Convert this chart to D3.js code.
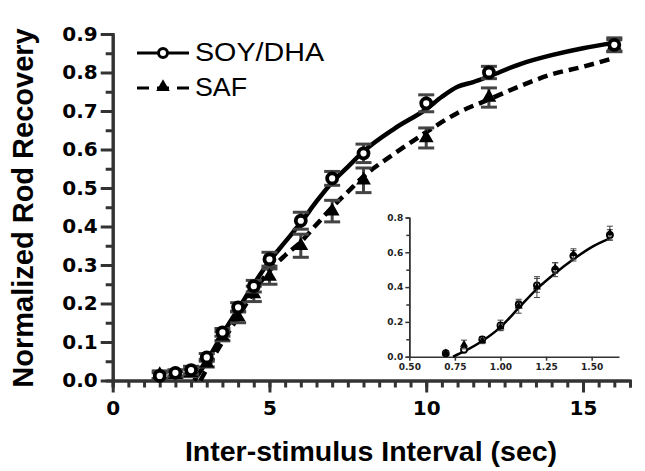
<!DOCTYPE html>
<html>
<head>
<meta charset="utf-8">
<script src="https://cdn.jsdelivr.net/npm/d3@7/dist/d3.min.js"></script>
<style>
    body { margin: 0; background: #fff; }
    #chart-area { width: 645px; height: 471px; }
    .tick text { font-family: "DejaVu Sans", sans-serif; font-weight: bold; fill: #000; }
</style>
</head>
<body>
<div id="chart-area"></div>
<script>

// main panel: inter-stimulus interval (sec)
var isi = [1.5, 2, 2.5, 3, 3.5, 4, 4.5, 5, 6, 7, 8, 10, 12, 16];
var soyMean = [0.012, 0.02, 0.027, 0.06, 0.125, 0.19, 0.245, 0.315, 0.415, 0.525, 0.59, 0.72, 0.80, 0.872];
var soyErr = [0.008, 0.008, 0.01, 0.01, 0.01, 0.012, 0.015, 0.018, 0.022, 0.018, 0.024, 0.022, 0.016, 0.018];
var safMean = [0.015, 0.015, 0.02, 0.045, 0.115, 0.165, 0.225, 0.27, 0.35, 0.44, 0.52, 0.63, 0.735, 0.87];
var safErr = [0.01, 0.008, 0.01, 0.01, 0.012, 0.015, 0.02, 0.02, 0.03, 0.028, 0.032, 0.026, 0.025, 0.015];

// fitted curves
var soyFitX = [2.6, 3, 3.5, 4, 4.5, 5, 5.5, 6, 6.5, 7, 7.5, 8, 9, 10, 10.5, 11, 11.5, 12, 13, 14, 15, 16];
var soyFitY = [0, 0.05, 0.12, 0.185, 0.25, 0.31, 0.36, 0.41, 0.465, 0.515, 0.555, 0.595, 0.655, 0.705, 0.737, 0.763, 0.775, 0.79, 0.822, 0.845, 0.863, 0.877];
var safFitX = [2.8, 3, 3.5, 4, 4.5, 5, 5.5, 6, 6.5, 7, 7.5, 8, 9, 10, 11, 12, 13, 14, 15, 16];
var safFitY = [0, 0.03, 0.1, 0.165, 0.23, 0.285, 0.325, 0.36, 0.405, 0.45, 0.49, 0.53, 0.59, 0.645, 0.695, 0.73, 0.765, 0.795, 0.815, 0.838];

// inset panel
var insetX = [0.7, 0.8, 0.9, 1.0, 1.1, 1.2, 1.3, 1.4, 1.6];
var insetSoy = [0.02, 0.04, 0.10, 0.18, 0.30, 0.41, 0.50, 0.58, 0.70];
var insetSoyErr = [0.008, 0.01, 0.015, 0.03, 0.02, 0.04, 0.04, 0.03, 0.03];
var insetSaf = [0.02, 0.07, 0.09, 0.17, 0.29, 0.40, 0.51, 0.59, 0.71];
var insetSafErr = [0.008, 0.025, 0.015, 0.02, 0.04, 0.06, 0.03, 0.03, 0.04];
var insetFitX = [0.74, 0.8, 0.9, 1.0, 1.1, 1.2, 1.3, 1.4, 1.5, 1.6];
var insetFitY = [0, 0.03, 0.09, 0.17, 0.28, 0.39, 0.48, 0.56, 0.63, 0.68];

var xTicks = [0, 5, 10, 15];
var yTicks = [0, 0.1, 0.2, 0.3, 0.4, 0.5, 0.6, 0.7, 0.8, 0.9];
var insetXTicks = [0.5, 0.75, 1.0, 1.25, 1.5];
var insetYTicks = [0, 0.2, 0.4, 0.6, 0.8];

var seriesNames = ["SOY/DHA", "SAF"];

var axisColor = "#333";

RecoveryChart = function(_parentElement) {
    this.parentElement = _parentElement;
    this.initVis();
};

RecoveryChart.prototype.initVis = function() {
    var vis = this;

    vis.svg = d3.select('#' + vis.parentElement)
        .append('svg')
        .attr('width', 645)
        .attr('height', 471);

    vis.x = d3.scaleLinear().domain([0, 16.5]).range([112.7, 630]);
    vis.y = d3.scaleLinear().domain([0, 0.9]).range([380.5, 34]);

    vis.ix = d3.scaleLinear().domain([0.5, 1.65]).range([409.3, 619]);
    vis.iy = d3.scaleLinear().domain([0, 0.8]).range([356.7, 217.5]);

    vis.drawAxes();
    vis.drawMain();
    vis.drawInset();
    vis.drawLegend();
};

RecoveryChart.prototype.drawAxes = function() {
    var vis = this;
    var h0 = vis.y(0), x0 = vis.x(0);

    // minor ticks first, majors on top
    vis.svg.append('g')
        .attr('transform', 'translate(0,' + h0 + ')')
        .call(d3.axisBottom(vis.x).tickValues(d3.range(0, 16.51, 0.5)).tickSize(7).tickFormat(''));
    vis.svg.append('g')
        .attr('transform', 'translate(' + x0 + ',0)')
        .call(d3.axisLeft(vis.y).tickValues(d3.range(0.05, 0.9, 0.1)).tickSize(7).tickFormat(''));

    vis.svg.append('g')
        .attr('class', 'x-axis')
        .attr('transform', 'translate(0,' + h0 + ')')
        .call(d3.axisBottom(vis.x).tickValues(xTicks).tickSize(12).tickSizeOuter(0).tickPadding(8))
        .selectAll('text').style('font-size', '20px');

    vis.svg.append('g')
        .attr('class', 'y-axis')
        .attr('transform', 'translate(' + x0 + ',0)')
        .call(d3.axisLeft(vis.y).tickValues(yTicks).tickSize(12).tickSizeOuter(0).tickPadding(3).tickFormat(d3.format('.1f')))
        .selectAll('text').style('font-size', '20px');

    vis.svg.selectAll('.domain, .tick line')
        .attr('stroke', axisColor)
        .attr('stroke-width', 3);

    vis.svg.append('text')
        .attr('x', 371)
        .attr('y', 461)
        .attr('text-anchor', 'middle')
        .style('font-family', '"Liberation Sans", Arial, sans-serif')
        .style('font-weight', 'bold')
        .style('font-size', '28.5px')
        .text('Inter-stimulus Interval (sec)');

    vis.svg.append('text')
        .attr('transform', 'translate(33,208) rotate(-90)')
        .attr('text-anchor', 'middle')
        .style('font-family', '"Liberation Sans", Arial, sans-serif')
        .style('font-weight', 'bold')
        .style('font-size', '29px')
        .text('Normalized Rod Recovery');
};

RecoveryChart.prototype.drawSeries = function(g, xs, means, errs, xScale, yScale, opt) {
    var pts = xs.map(function(d, i) { return { x: d, y: means[i], e: errs[i] }; });

    var bars = g.append('g').attr('stroke', '#444').attr('stroke-width', opt.barWidth);
    pts.forEach(function(d) {
        var px = xScale(d.x);
        bars.append('line')
            .attr('x1', px).attr('x2', px)
            .attr('y1', yScale(d.y - d.e)).attr('y2', yScale(d.y + d.e));
        [d.y - d.e, d.y + d.e].forEach(function(v) {
            bars.append('line')
                .attr('x1', px - opt.cap).attr('x2', px + opt.cap)
                .attr('y1', yScale(v)).attr('y2', yScale(v));
        });
    });

    if (opt.shape === 'circle') {
        g.selectAll('.pt-c')
            .data(pts)
            .enter()
            .append('circle')
            .attr('class', 'pt-c')
            .attr('cx', function(d) { return xScale(d.x); })
            .attr('cy', function(d) { return yScale(d.y); })
            .attr('r', opt.r)
            .attr('fill', '#fff')
            .attr('stroke', '#000')
            .attr('stroke-width', opt.stroke);
    } else {
        g.selectAll('.pt-t')
            .data(pts)
            .enter()
            .append('path')
            .attr('class', 'pt-t')
            .attr('d', d3.symbol(d3.symbolTriangle).size(opt.size))
            .attr('transform', function(d) { return 'translate(' + xScale(d.x) + ',' + yScale(d.y) + ')'; })
            .attr('fill', '#000');
    }
};

RecoveryChart.prototype.drawMain = function() {
    var vis = this;

    var line = d3.line()
        .x(function(d) { return vis.x(d[0]); })
        .y(function(d) { return vis.y(d[1]); })
        .curve(d3.curveMonotoneX);

    vis.svg.append('path')
        .datum(d3.zip(soyFitX, soyFitY))
        .attr('d', line)
        .attr('fill', 'none')
        .attr('stroke', '#000')
        .attr('stroke-width', 4.5);

    vis.svg.append('path')
        .datum(d3.zip(safFitX, safFitY))
        .attr('d', line)
        .attr('fill', 'none')
        .attr('stroke', '#000')
        .attr('stroke-width', 4.5)
        .attr('stroke-dasharray', '10,6');

    var g = vis.svg.append('g');
    vis.drawSeries(g, isi, safMean, safErr, vis.x, vis.y, { shape: 'triangle', size: 95, cap: 8, barWidth: 3 });
    vis.drawSeries(g, isi, soyMean, soyErr, vis.x, vis.y, { shape: 'circle', r: 5, stroke: 3.8, cap: 8, barWidth: 3 });
};

RecoveryChart.prototype.drawInset = function() {
    var vis = this;
    var h0 = vis.iy(0), x0 = vis.ix(0.5);

    var gx = vis.svg.append('g')
        .attr('transform', 'translate(0,' + h0 + ')')
        .call(d3.axisBottom(vis.ix).tickValues(insetXTicks).tickSize(4).tickSizeOuter(0).tickPadding(3).tickFormat(d3.format('.2f')));
    var gyMinor = vis.svg.append('g')
        .attr('transform', 'translate(' + x0 + ',0)')
        .call(d3.axisLeft(vis.iy).tickValues([0.1, 0.3, 0.5, 0.7]).tickSize(3).tickFormat(''));
    var gy = vis.svg.append('g')
        .attr('transform', 'translate(' + x0 + ',0)')
        .call(d3.axisLeft(vis.iy).tickValues(insetYTicks).tickSize(4).tickSizeOuter(0).tickPadding(2).tickFormat(d3.format('.1f')));

    [gx, gyMinor, gy].forEach(function(g) {
        g.selectAll('.domain, .tick line').attr('stroke', axisColor).attr('stroke-width', 1.5);
        g.selectAll('text').style('font-size', '9px').style('fill', '#222');
    });

    var line = d3.line()
        .x(function(d) { return vis.ix(d[0]); })
        .y(function(d) { return vis.iy(d[1]); })
        .curve(d3.curveMonotoneX);

    vis.svg.append('path')
        .datum(d3.zip(insetFitX, insetFitY))
        .attr('d', line)
        .attr('fill', 'none')
        .attr('stroke', '#000')
        .attr('stroke-width', 2.5);

    var g = vis.svg.append('g');
    vis.drawSeries(g, insetX, insetSoy, insetSoyErr, vis.ix, vis.iy, { shape: 'circle', r: 3, stroke: 1.8, cap: 3, barWidth: 1 });
    vis.drawSeries(g, insetX, insetSaf, insetSafErr, vis.ix, vis.iy, { shape: 'triangle', size: 28, cap: 3, barWidth: 1 });
};

RecoveryChart.prototype.drawLegend = function() {
    var vis = this;
    var rows = [53, 88];

    var leg = vis.svg.append('g');
    leg.append('line')
        .attr('x1', 137).attr('x2', 189).attr('y1', rows[0]).attr('y2', rows[0])
        .attr('stroke', '#000').attr('stroke-width', 3);
    leg.append('circle')
        .attr('cx', 163).attr('cy', rows[0]).attr('r', 4.5)
        .attr('fill', '#fff').attr('stroke', '#000').attr('stroke-width', 3);

    leg.append('line')
        .attr('x1', 137).attr('x2', 189).attr('y1', rows[1]).attr('y2', rows[1])
        .attr('stroke', '#000').attr('stroke-width', 3)
        .attr('stroke-dasharray', '12,8');
    leg.append('path')
        .attr('d', d3.symbol(d3.symbolTriangle).size(80))
        .attr('transform', 'translate(163,' + (rows[1] - 1) + ')')
        .attr('fill', '#000');

    leg.selectAll('.leg-label')
        .data(seriesNames)
        .enter()
        .append('text')
        .attr('class', 'leg-label')
        .attr('x', 195)
        .attr('y', function(d, i) { return rows[i] + 8; })
        .attr('textLength', function(d, i) { return i === 0 ? 129 : 52; })
        .attr('lengthAdjust', 'spacingAndGlyphs')
        .style('font-family', '"Liberation Sans", Arial, sans-serif')
        .style('font-size', '26px')
        .text(function(d) { return d; });
};

var chart = new RecoveryChart('chart-area');

</script>
</body>
</html>
